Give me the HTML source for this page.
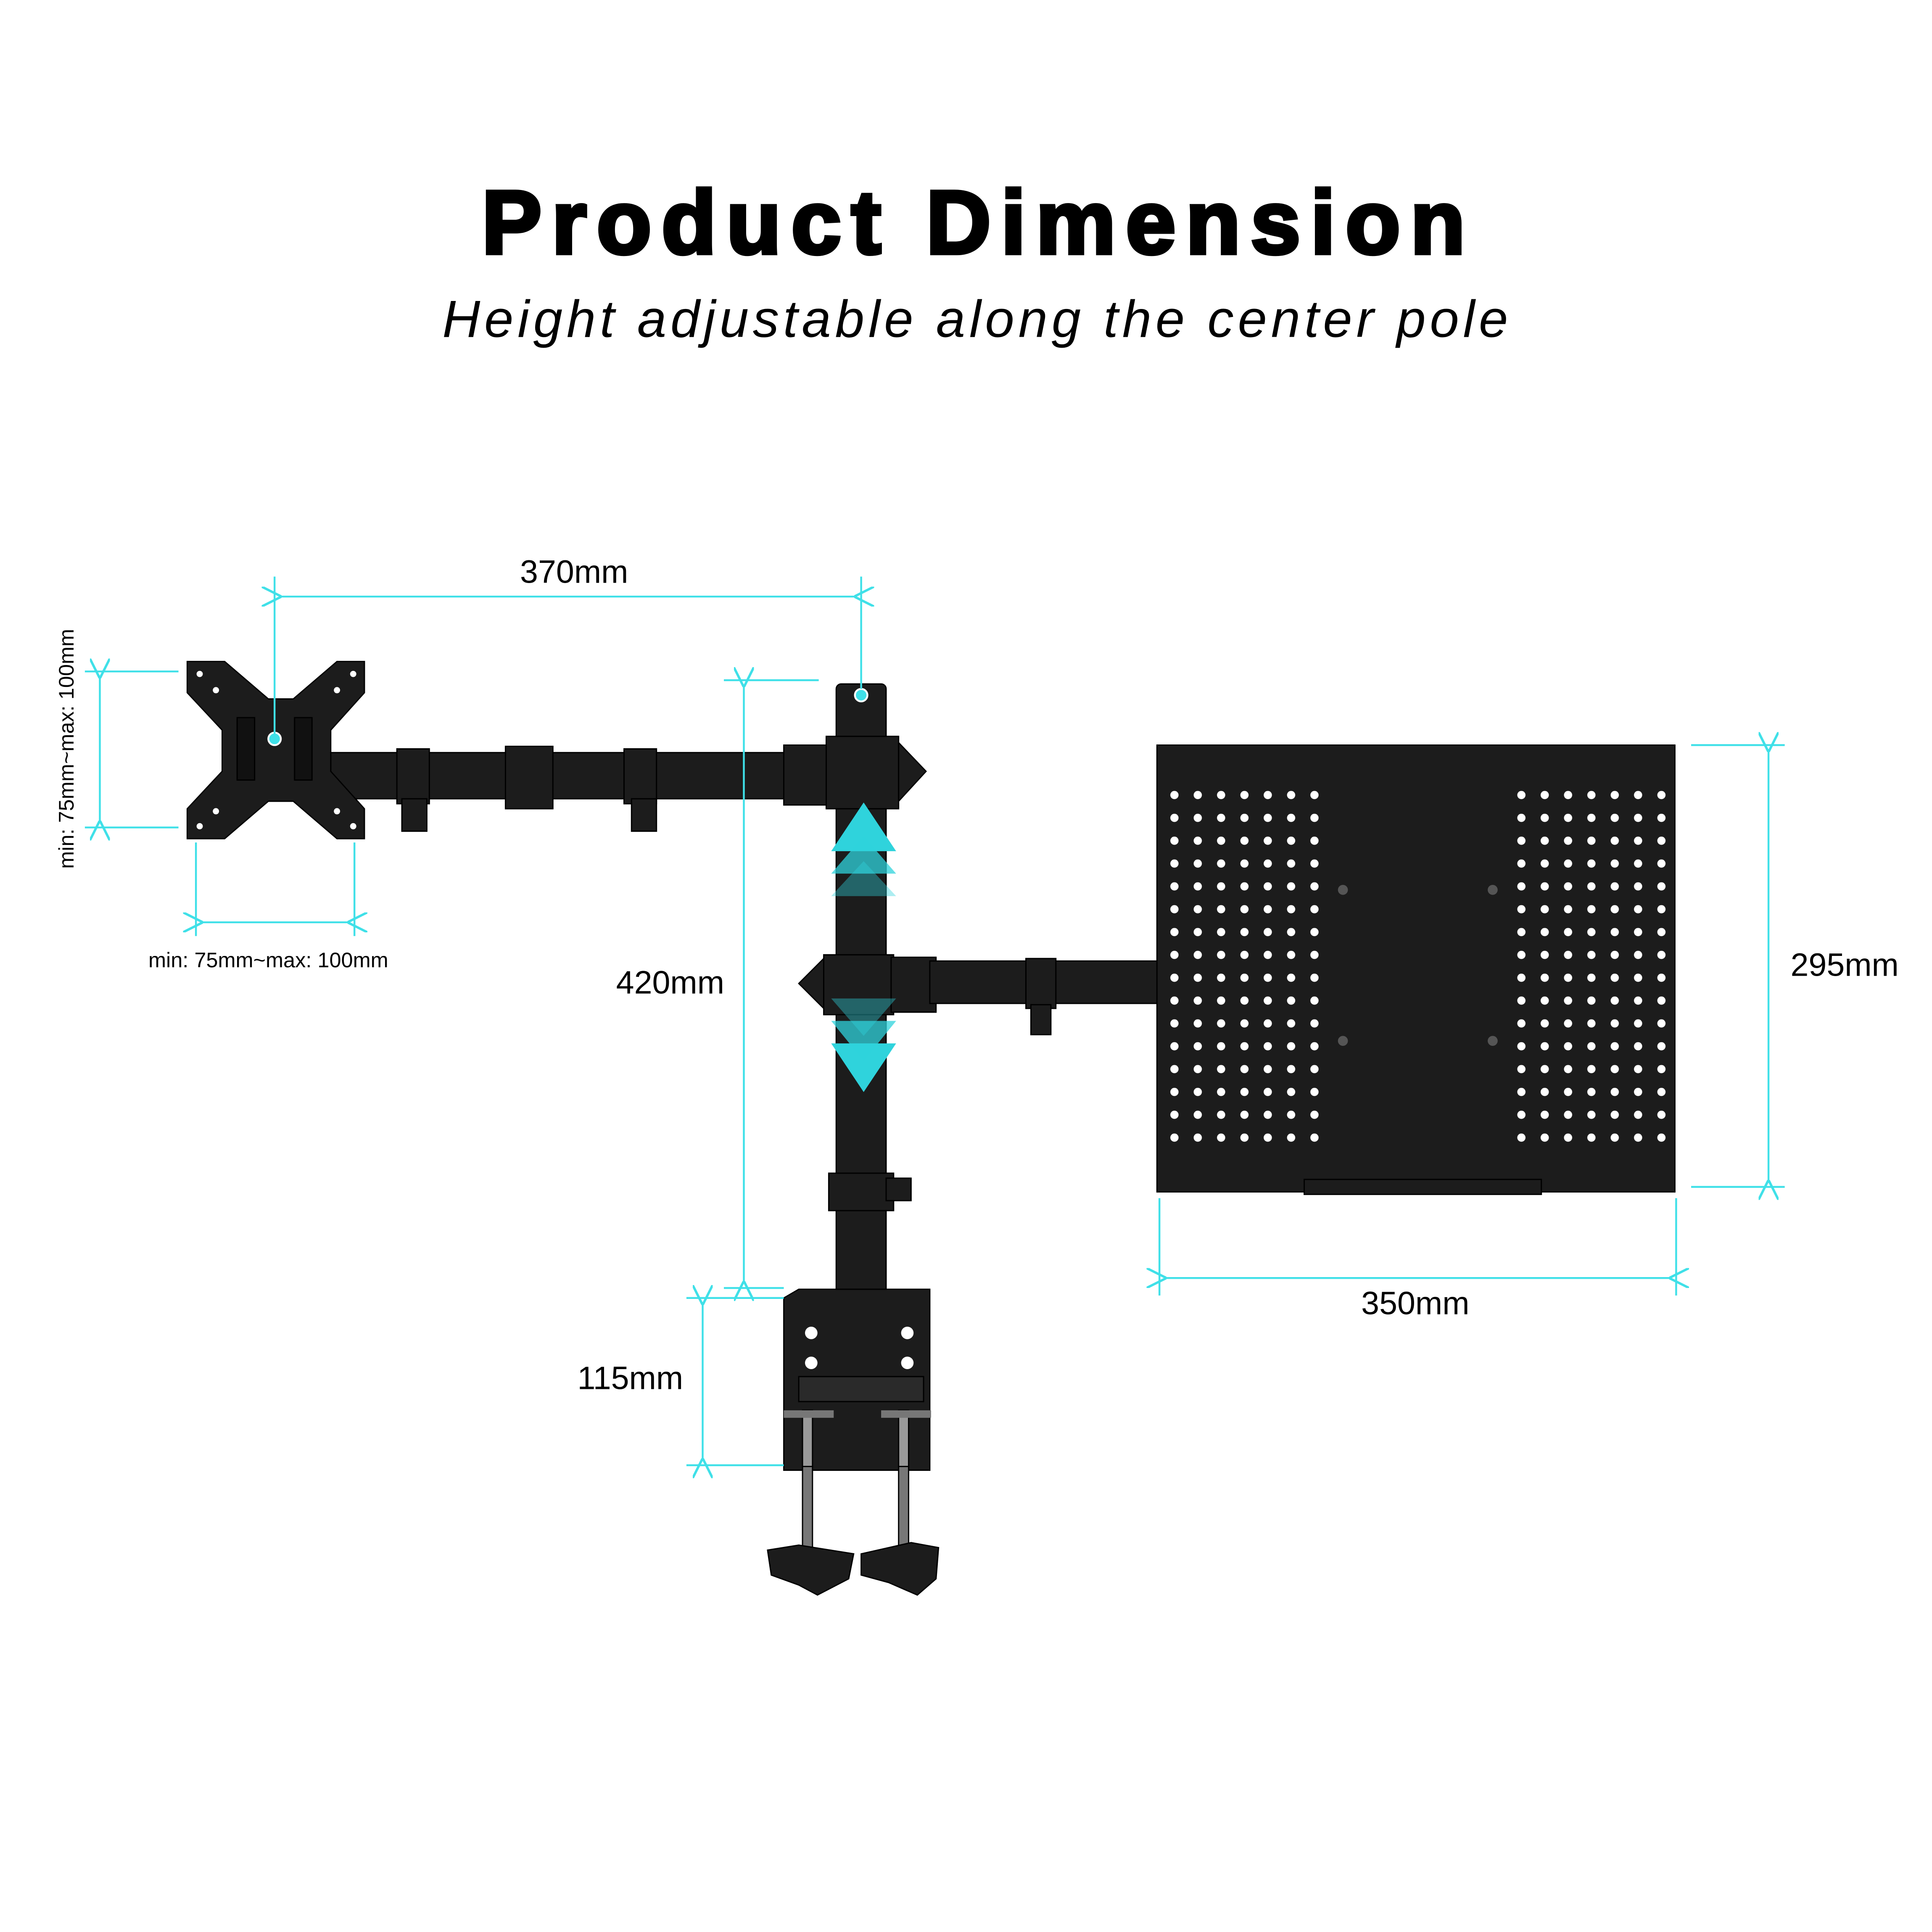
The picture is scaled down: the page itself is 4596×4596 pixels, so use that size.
<!DOCTYPE html>
<html><head><meta charset="utf-8"><style>
html,body{margin:0;padding:0;background:#fff}
svg{display:block}
</style></head><body>
<svg width="4596" height="4596" viewBox="0 0 1548 1548" xmlns="http://www.w3.org/2000/svg">
<defs>
<marker id="ah" viewBox="0 0 10 10" refX="1" refY="5" markerWidth="16" markerHeight="16" markerUnits="userSpaceOnUse" orient="auto-start-reverse">
<path d="M10,0 L0,5 L10,10" fill="none" stroke="#3fe0e8" stroke-width="1.2"/>
</marker>
<pattern id="dp" x="936" y="632" width="18.7" height="18.3" patternUnits="userSpaceOnUse"><circle cx="5" cy="5" r="3.3" fill="#fff"/></pattern>
<pattern id="dp2" x="1214" y="632" width="18.7" height="18.3" patternUnits="userSpaceOnUse"><circle cx="5" cy="5" r="3.3" fill="#fff"/></pattern>
</defs>
<rect width="1548" height="1548" fill="#fff"/>
<text x="784" y="203" text-anchor="middle" font-family="Liberation Sans, sans-serif" font-weight="900" font-size="72" letter-spacing="8" fill="#000" stroke="#000" stroke-width="3">Product Dimension</text>
<text x="783" y="270" text-anchor="middle" font-family="Liberation Sans, sans-serif" font-style="italic" font-size="42" letter-spacing="3.3" fill="#000">Height adjustable along the center pole</text>

<g fill="#1c1c1c" stroke="#000" stroke-width="1">
<rect x="265" y="603" width="400" height="37"/>
<rect x="318" y="600" width="26" height="44"/><rect x="322" y="640" width="20" height="26"/>
<rect x="405" y="598" width="38" height="50"/>
<rect x="500" y="600" width="26" height="44"/><rect x="506" y="640" width="20" height="26"/>
<rect x="628" y="597" width="36" height="48"/>
<path d="M155,530 H180 L215,560 H235 L270,530 H292 V555 L265,585 V618 L292,648 V672 H270 L235,642 H215 L180,672 H150 V648 L178,618 V585 L150,555 V530 Z"/>
<rect x="190" y="575" width="14" height="50" fill="#111"/><rect x="236" y="575" width="14" height="50" fill="#111"/>
<rect x="670" y="548" width="40" height="495" rx="4"/>
<rect x="664" y="940" width="52" height="30"/>
<rect x="710" y="944" width="20" height="18"/>
<rect x="662" y="590" width="58" height="58"/>
<path d="M720,595 L742,618 L720,642 Z"/>
<path d="M660,768 L640,788 L660,808 Z"/>
<rect x="660" y="765" width="56" height="48"/>
<rect x="714" y="767" width="36" height="44"/>
<rect x="745" y="770" width="185" height="34"/>
<rect x="822" y="768" width="24" height="40"/><rect x="826" y="805" width="16" height="24"/>
<rect x="927" y="597" width="415" height="358"/>
<rect x="1045" y="945" width="190" height="12"/>
<path d="M628,1040 L640,1033 H745 V1178 H628 Z"/>
<rect x="640" y="1103" width="100" height="20" fill="#2a2a2a"/>
<rect x="643" y="1175" width="8" height="65" fill="#777"/><rect x="720" y="1175" width="8" height="65" fill="#777"/>
<rect x="643" y="1130" width="8" height="45" fill="#999"/><rect x="720" y="1130" width="8" height="45" fill="#999"/>
<path d="M615,1242 L640,1238 L684,1245 L680,1265 L655,1278 L640,1270 L618,1262 Z"/>
<path d="M690,1245 L730,1236 L752,1240 L750,1265 L735,1278 L712,1268 L690,1262 Z"/>
</g>
<g fill="#777"><rect x="628" y="1130" width="40" height="6"/><rect x="706" y="1130" width="40" height="6"/></g>
<g fill="#fff">
<circle cx="650" cy="1068" r="5"/><circle cx="727" cy="1068" r="5"/><circle cx="650" cy="1092" r="5"/><circle cx="727" cy="1092" r="5"/>
<circle cx="160" cy="540" r="2.5"/><circle cx="283" cy="540" r="2.5"/><circle cx="160" cy="662" r="2.5"/><circle cx="283" cy="662" r="2.5"/>
<circle cx="173" cy="553" r="2.5"/><circle cx="270" cy="553" r="2.5"/><circle cx="173" cy="650" r="2.5"/><circle cx="270" cy="650" r="2.5"/>
</g>
<rect x="936" y="632" width="131" height="293" fill="url(#dp)"/>
<rect x="1214" y="632" width="131" height="293" fill="url(#dp2)"/>
<g fill="#555"><circle cx="1076" cy="713" r="4"/><circle cx="1196" cy="713" r="4"/><circle cx="1076" cy="834" r="4"/><circle cx="1196" cy="834" r="4"/></g>

<g fill="#2fd3dc">
<path d="M692,643 L718,682 H666 Z"/>
<path d="M692,670 L718,700 H666 Z" opacity="0.75"/>
<path d="M692,690 L718,718 H666 Z" opacity="0.4"/>
<path d="M692,875 L718,836 H666 Z"/>
<path d="M692,850 L718,818 H666 Z" opacity="0.75"/>
<path d="M692,830 L718,800 H666 Z" opacity="0.4"/>
</g>
<g fill="#3fe0e8" stroke="#fff" stroke-width="1.5"><circle cx="690" cy="557" r="5"/><circle cx="220" cy="592" r="5"/></g>

<g stroke="#3fe0e8" stroke-width="1.5" fill="none">
<line x1="220" y1="462" x2="220" y2="588"/><line x1="690" y1="462" x2="690" y2="552"/>
<line x1="224" y1="478" x2="686" y2="478" marker-start="url(#ah)" marker-end="url(#ah)"/>
<line x1="580" y1="545" x2="656" y2="545"/><line x1="580" y1="1032" x2="628" y2="1032"/>
<line x1="596" y1="549" x2="596" y2="1028" marker-start="url(#ah)" marker-end="url(#ah)"/>
<line x1="550" y1="1040" x2="628" y2="1040"/><line x1="550" y1="1174" x2="628" y2="1174"/>
<line x1="563" y1="1044" x2="563" y2="1170" marker-start="url(#ah)" marker-end="url(#ah)"/>
<line x1="1355" y1="597" x2="1430" y2="597"/><line x1="1355" y1="951" x2="1430" y2="951"/>
<line x1="1417" y1="601" x2="1417" y2="947" marker-start="url(#ah)" marker-end="url(#ah)"/>
<line x1="929" y1="960" x2="929" y2="1038"/><line x1="1343" y1="960" x2="1343" y2="1038"/>
<line x1="933" y1="1024" x2="1339" y2="1024" marker-start="url(#ah)" marker-end="url(#ah)"/>
<line x1="68" y1="538" x2="143" y2="538"/><line x1="68" y1="663" x2="143" y2="663"/>
<line x1="80" y1="542" x2="80" y2="659" marker-start="url(#ah)" marker-end="url(#ah)"/>
<line x1="157" y1="675" x2="157" y2="750"/><line x1="284" y1="675" x2="284" y2="750"/>
<line x1="161" y1="739" x2="280" y2="739" marker-start="url(#ah)" marker-end="url(#ah)"/>
</g>
<g font-family="Liberation Sans, sans-serif" fill="#000" font-size="26" text-anchor="middle">
<text x="460" y="467">370mm</text>
<text x="537" y="796">420mm</text>
<text x="505" y="1113">115mm</text>
<text x="1478" y="782">295mm</text>
<text x="1134" y="1053">350mm</text>
<text x="215" y="775" font-size="17">min: 75mm~max: 100mm</text>
<text x="0" y="0" font-size="17" transform="translate(59,600) rotate(-90)">min: 75mm~max: 100mm</text>
</g>
</svg>
</body></html>
